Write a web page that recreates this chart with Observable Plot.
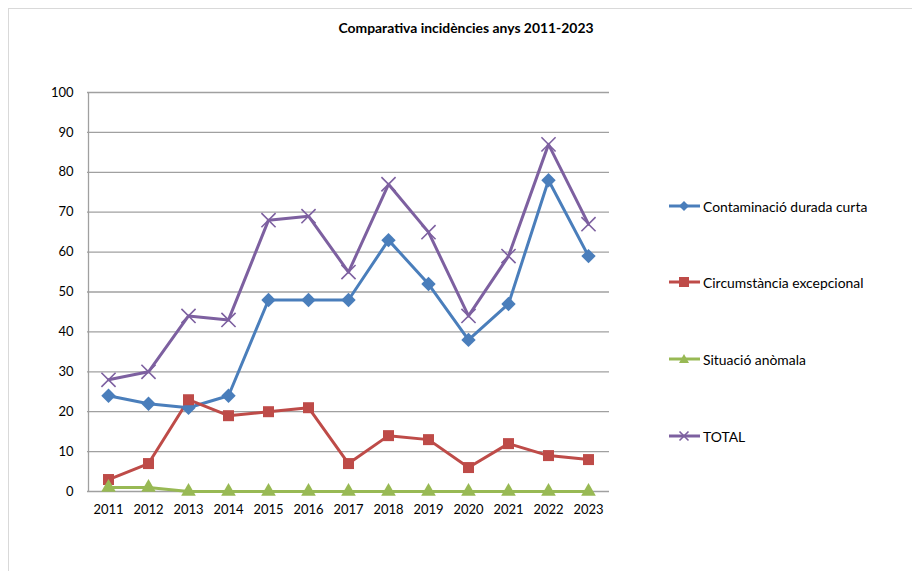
<!DOCTYPE html>
<html>
<head>
<meta charset="utf-8">
<script src="https://cdn.jsdelivr.net/npm/d3@7"></script>
<script src="https://cdn.jsdelivr.net/npm/@observablehq/plot@0.6"></script>
<style>
  html, body { margin: 0; padding: 0; background: #fff; }
  body { width: 912px; height: 571px; position: relative; overflow: hidden; font-family: Lato, "Open Sans", sans-serif; }
  #frame { position: absolute; left: 8px; top: 8px; width: 920px; height: 580px; border: 1px solid #d9d9d9; box-sizing: border-box; }
  #title { position: absolute; left: 0; width: 932px; top: 19px; text-align: center; font-weight: bold; font-size: 13.9px; color: #000; }
  #chart { position: absolute; left: 0; top: 0; }
  #legend { position: absolute; left: 669px; top: 0; font-size: 13.9px; color: #000; }
  .item { position: absolute; left: 0; white-space: nowrap; display: flex; align-items: center; }
  .item svg { margin-right: 3px; }
</style>
</head>
<body>
<div id="frame"></div>
<div id="chart"></div>
<div id="title">Comparativa incidències anys 2011-2023</div>
<div id="legend"></div>
<script>
const years = ["2011","2012","2013","2014","2015","2016","2017","2018","2019","2020","2021","2022","2023"];
const contaminacio = [24, 22, 21, 24, 48, 48, 48, 63, 52, 38, 47, 78, 59];
const circumstancia = [3, 7, 23, 19, 20, 21, 7, 14, 13, 6, 12, 9, 8];
const situacio = [1, 1, 0, 0, 0, 0, 0, 0, 0, 0, 0, 0, 0];
const total = [28, 30, 44, 43, 68, 69, 55, 77, 65, 44, 59, 87, 67];
const seriesNames = ["Contaminació durada curta", "Circumstància excepcional", "Situació anòmala", "TOTAL"];
const yTicks = [0, 10, 20, 30, 40, 50, 60, 70, 80, 90, 100];

const colors = ["#4a7ebb", "#be4b48", "#98b954", "#7d60a0"];
const seriesValues = [contaminacio, circumstancia, situacio, total];
const data = seriesValues.map((vals, i) => years.map((y, j) => ({year: y, value: vals[j], series: seriesNames[i]})));

const lineMarks = data.map((d, i) =>
  Plot.line(d, {x: "year", y: "value", stroke: colors[i], strokeWidth: 3, strokeLinejoin: "round"}));
const dotMarks = [
  Plot.dot(data[0], {x: "year", y: "value", symbol: "diamond2", r: 6.5, fill: colors[0]}),
  Plot.dot(data[1], {x: "year", y: "value", symbol: "square2", r: 7, fill: colors[1]}),
  Plot.dot(data[2], {x: "year", y: "value", symbol: "triangle2", r: 7, fill: colors[2]}),
  Plot.dot(data[3], {x: "year", y: "value", symbol: "times", r: 6.5, stroke: colors[3], strokeWidth: 1.6})
];

const chart = Plot.plot({
  width: 912,
  height: 571,
  marginLeft: 87,
  marginRight: 303,
  marginTop: 92,
  marginBottom: 80,
  style: {fontFamily: "Lato, 'Open Sans', sans-serif", fontSize: "13px", color: "#000", background: "transparent", overflow: "visible"},
  x: {type: "point", domain: years, padding: 0.5, label: null, tickSize: 0, tickPadding: 13},
  y: {domain: [0, 100], ticks: yTicks, label: null, tickSize: 0, tickPadding: 14},
  marks: [
    Plot.ruleY(yTicks, {stroke: "#a0a0a0", strokeWidth: 1.3}),
    Plot.ruleX([years[0]], {dx: -20, y1: 0, y2: 100, stroke: "#a0a0a0", strokeWidth: 1.3}),
    ...lineMarks,
    ...dotMarks
  ]
});
document.getElementById("chart").appendChild(chart);

// Legend
const legendTops = [206, 282, 359, 436];
const symbolsSvg = [
  c => `<polygon points="15,-5 20,0 15,5 10,0" fill="${c}"/>`,
  c => `<rect x="10" y="-5" width="10" height="10" fill="${c}"/>`,
  c => `<polygon points="15,-5 20,4 10,4" fill="${c}"/>`,
  c => `<path d="M10.5,-4.5L19.5,4.5M10.5,4.5L19.5,-4.5" stroke="${c}" stroke-width="1.6"/>`
];
const legend = document.getElementById("legend");
seriesNames.forEach((name, i) => {
  const item = document.createElement("div");
  item.className = "item";
  item.style.top = (legendTops[i] - 9) + "px";
  item.innerHTML = `<svg width="31" height="18" viewBox="0 -9 31 18"><line x1="0" y1="0" x2="31" y2="0" stroke="${colors[i]}" stroke-width="3"/>${symbolsSvg[i](colors[i])}</svg><span>${name}</span>`;
  legend.appendChild(item);
});
</script>
</body>
</html>
